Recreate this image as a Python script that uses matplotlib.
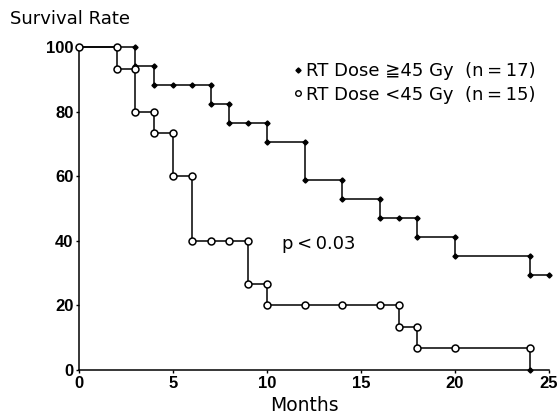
import matplotlib
matplotlib.use("Agg")
import matplotlib.pyplot as plt
from matplotlib.lines import Line2D

plt.rcParams['font.family'] = ['DejaVu Sans']

# RT Dose >= 45 Gy (n=17): step points (month, survival %)
high_months = [0, 3, 3, 4, 4, 5, 6, 7, 7, 8, 8, 9, 10, 10, 12, 12, 14, 14,
               16, 16, 17, 18, 18, 20, 20, 24, 24, 25]
high_surv = [100, 100, 94.1, 94.1, 88.2, 88.2, 88.2, 88.2, 82.4, 82.4, 76.5,
             76.5, 76.5, 70.6, 70.6, 58.8, 58.8, 52.9, 52.9, 47.1, 47.1, 47.1,
             41.2, 41.2, 35.3, 35.3, 29.4, 29.4]

# RT Dose < 45 Gy (n=15)
low_months = [0, 2, 2, 3, 3, 4, 4, 5, 5, 6, 6, 7, 8, 9, 9, 10, 10, 12, 14,
              16, 17, 17, 18, 18, 20, 24, 24]
low_surv = [100, 100, 93.3, 93.3, 80, 80, 73.3, 73.3, 60, 60, 40, 40, 40, 40,
            26.7, 26.7, 20, 20, 20, 20, 20, 13.3, 13.3, 6.7, 6.7, 6.7, 0]

x_ticks = [0, 5, 10, 15, 20, 25]
y_ticks = [0, 20, 40, 60, 80, 100]

fig = plt.figure(figsize=(5.58, 4.16), dpi=100)
ax = fig.add_axes([0.1416, 0.1106, 0.8424, 0.7764])

ax.plot(high_months, high_surv, drawstyle='steps-post', color='black', lw=1.1,
        clip_on=False, zorder=2)
ax.plot(high_months[1:], high_surv[1:], linestyle='none', marker='D', ms=2.6,
        color='black', clip_on=False, zorder=3)

ax.plot(low_months, low_surv, drawstyle='steps-post', color='black', lw=1.1,
        clip_on=False, zorder=2)
ax.plot(low_months[:-1], low_surv[:-1], linestyle='none', marker='o', ms=5,
        mfc='white', mec='black', mew=1.1, clip_on=False, zorder=3)
ax.plot(low_months[-1:], low_surv[-1:], linestyle='none', marker='D', ms=2.6,
        color='black', clip_on=False, zorder=3)

ax.set_xlim(0, 25)
ax.set_ylim(0, 100)
ax.spines['top'].set_visible(False)
ax.spines['right'].set_visible(False)
ax.spines['left'].set_linewidth(1.1)
ax.spines['bottom'].set_linewidth(1.1)
ax.set_xticks(x_ticks)
ax.set_yticks(y_ticks)
ax.tick_params(axis='both', direction='out', length=2.5, width=1, pad=1.5,
               labelsize=12)
for lab in ax.get_xticklabels() + ax.get_yticklabels():
    lab.set_fontweight('bold')
    lab.set_family('Liberation Sans')

ax.set_xlabel("Months", fontsize=13.5)
ax.xaxis.set_label_coords(0.48, -0.082)
fig.text(0.018, 0.955, "Survival Rate", fontsize=13, ha='left', va='center')

ax.text(10.8, 39, "p\u2009<\u20090.03", fontsize=13, ha='left', va='center')

handles = [
    Line2D([], [], linestyle='none', marker='D', ms=2.6, color='black'),
    Line2D([], [], linestyle='none', marker='o', ms=4, mfc='white',
           mec='black', mew=1),
]
labels = ["RT Dose \u226745 Gy  (n\u2009=\u200917)",
          "RT Dose <45 Gy  (n\u2009=\u200915)"]
ax.legend(handles, labels, loc='upper left', bbox_to_anchor=(0.44, 0.975),
          frameon=False, fontsize=13, handlelength=0.5, handletextpad=0.2,
          labelspacing=0.3, borderaxespad=0)

fig.savefig("out.png", dpi=100)
